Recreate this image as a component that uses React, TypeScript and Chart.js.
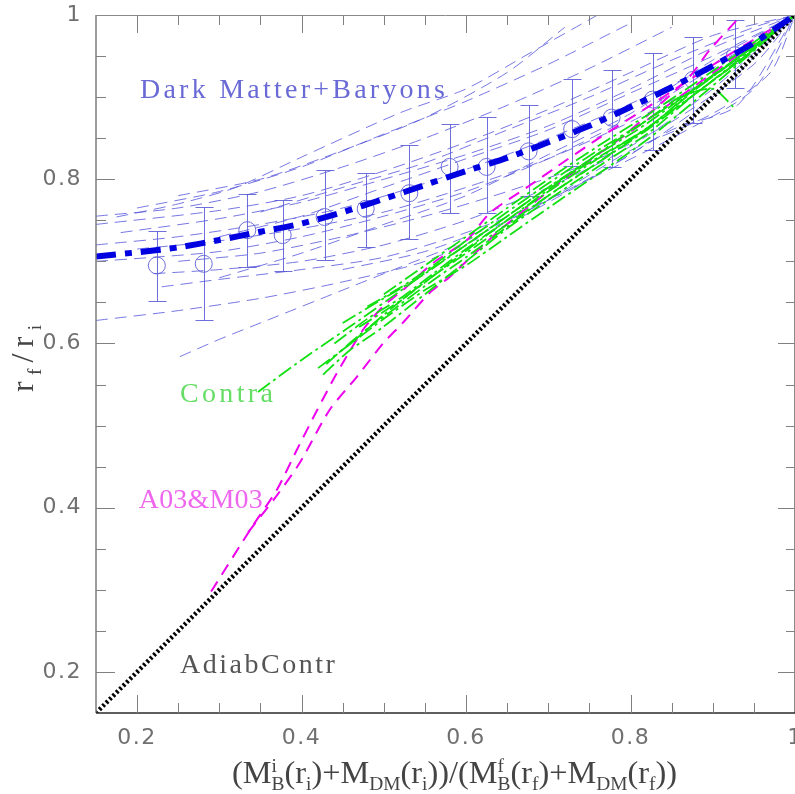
import React, { useEffect, useRef } from 'react';
import { Chart, registerables } from 'chart.js';

Chart.register(...registerables);

// ---------- axes ----------
const X_MIN = 0.15;
const X_MAX = 1.0;
const Y_MIN = 0.15;
const Y_MAX = 1.0;
const xTickValues = [0.2, 0.4, 0.6, 0.8, 1.0];
const xTickLabels = ['0.2', '0.4', '0.6', '0.8', '1'];
const yTickValues = [0.2, 0.4, 0.6, 0.8, 1.0];
const yTickLabels = ['0.2', '0.4', '0.6', '0.8', '1'];
const minorTickValues = [0.25, 0.3, 0.35, 0.45, 0.5, 0.55, 0.65, 0.7, 0.75, 0.85, 0.9, 0.95];

// ---------- Dark Matter + Baryons mean fit (thick dash-dot) ----------
const fitX = [0.15, 0.2, 0.25, 0.3, 0.35, 0.4, 0.45, 0.5, 0.55, 0.6, 0.65, 0.7, 0.75, 0.8, 0.85, 0.9, 0.95, 1.0];
const fitY = [0.706, 0.711, 0.717, 0.726, 0.736, 0.746, 0.76, 0.776, 0.793, 0.81, 0.826, 0.845, 0.865, 0.888, 0.912, 0.938, 0.966, 1.0];

// ---------- binned means with error bars ----------
const binX = [0.224, 0.281, 0.334, 0.377, 0.428, 0.478, 0.531, 0.58, 0.625, 0.676, 0.729, 0.777, 0.827, 0.876, 0.927];
const binY = [0.695, 0.697, 0.738, 0.732, 0.754, 0.764, 0.783, 0.815, 0.815, 0.834, 0.861, 0.875, 0.897, 0.921, 0.951];
const binHi = [0.737, 0.766, 0.782, 0.775, 0.811, 0.808, 0.842, 0.867, 0.876, 0.891, 0.922, 0.933, 0.954, 0.973, 0.994];
const binLo = [0.652, 0.628, 0.693, 0.688, 0.702, 0.718, 0.727, 0.759, 0.759, 0.779, 0.816, 0.815, 0.836, 0.868, 0.911];

// ---------- individual DM+baryon runs (thin dashed) ----------
const dmSimX: number[][] = [
  [0.175, 0.25, 0.32, 0.4, 0.52, 0.6, 0.68, 0.76],
  [0.2, 0.3, 0.4, 0.5, 0.6, 0.7, 0.8],
  [0.15, 0.25, 0.35, 0.45, 0.55, 0.65, 0.75, 0.85],
  [0.15, 0.3, 0.4, 0.5, 0.6, 0.7, 0.8, 0.9, 1.0],
  [0.18, 0.3, 0.4, 0.5, 0.6, 0.7, 0.8, 0.9, 1.0],
  [0.15, 0.25, 0.35, 0.45, 0.55, 0.65, 0.75, 0.85, 0.95, 1.0],
  [0.2, 0.3, 0.4, 0.5, 0.6, 0.7, 0.8, 0.9, 1.0],
  [0.25, 0.35, 0.45, 0.55, 0.65, 0.75, 0.85, 0.95, 1.0],
  [0.22, 0.3, 0.4, 0.5, 0.6, 0.7, 0.8, 0.9, 1.0],
  [0.23, 0.3, 0.4, 0.5, 0.6, 0.7, 0.8, 0.9, 1.0],
  [0.15, 0.25, 0.35, 0.45, 0.55, 0.65, 0.75, 0.85, 0.93, 1.0],
  [0.252, 0.3, 0.36, 0.45, 0.52, 0.6, 0.7, 0.8, 0.9, 0.97, 1.0],
  [0.15, 0.22, 0.3, 0.4, 0.5, 0.6, 0.7, 0.8, 0.9, 1.0],
  [0.3, 0.4, 0.5, 0.6, 0.7, 0.8, 0.9, 1.0],
  [0.25, 0.35, 0.45, 0.55, 0.65, 0.72],
  [0.45, 0.55, 0.65, 0.75, 0.85, 0.95, 1.0],
  [0.3, 0.4, 0.5, 0.6, 0.7, 0.8, 0.9, 1.0],
  [0.35, 0.45, 0.55, 0.65, 0.75, 0.85, 0.95, 1.0],
];
const dmSimY: number[][] = [
  [0.754, 0.77, 0.79, 0.827, 0.881, 0.91, 0.955, 1.0],
  [0.765, 0.785, 0.815, 0.855, 0.895, 0.94, 0.99],
  [0.755, 0.765, 0.785, 0.815, 0.85, 0.89, 0.935, 0.985],
  [0.745, 0.762, 0.78, 0.81, 0.845, 0.885, 0.93, 0.975, 1.0],
  [0.735, 0.752, 0.772, 0.8, 0.83, 0.865, 0.91, 0.96, 1.0],
  [0.72, 0.73, 0.745, 0.765, 0.795, 0.83, 0.87, 0.915, 0.965, 1.0],
  [0.715, 0.725, 0.74, 0.76, 0.79, 0.825, 0.87, 0.925, 1.0],
  [0.7, 0.71, 0.73, 0.755, 0.785, 0.82, 0.87, 0.94, 1.0],
  [0.685, 0.69, 0.7, 0.72, 0.75, 0.79, 0.84, 0.91, 1.0],
  [0.669, 0.678, 0.69, 0.705, 0.735, 0.775, 0.83, 0.9, 1.0],
  [0.628, 0.64, 0.655, 0.675, 0.7, 0.745, 0.8, 0.86, 0.89, 1.0],
  [0.584, 0.605, 0.629, 0.665, 0.693, 0.725, 0.775, 0.835, 0.88, 0.93, 1.0],
  [0.7, 0.705, 0.712, 0.73, 0.755, 0.785, 0.825, 0.875, 0.935, 1.0],
  [0.68, 0.71, 0.745, 0.78, 0.83, 0.88, 0.945, 1.0],
  [0.78, 0.8, 0.835, 0.875, 0.93, 0.985],
  [0.69, 0.712, 0.75, 0.8, 0.85, 0.91, 1.0],
  [0.73, 0.755, 0.79, 0.825, 0.86, 0.905, 0.95, 1.0],
  [0.76, 0.79, 0.82, 0.86, 0.9, 0.945, 0.985, 1.0],
];

// ---------- Contra runs (green dash-dot) ----------
const contraX: number[][] = [
  [0.347, 0.4, 0.471, 0.52, 0.556, 0.6, 0.65, 0.7, 0.763, 0.824, 0.884, 0.94, 1.0],
  [0.426, 0.459, 0.499, 0.55, 0.6, 0.65, 0.7, 0.76, 0.82, 0.88, 0.94, 1.0],
  [0.43, 0.47, 0.51, 0.55, 0.6, 0.65, 0.7, 0.76, 0.82, 0.88, 0.94, 1.0],
  [0.44, 0.48, 0.52, 0.56, 0.6, 0.65, 0.7, 0.76, 0.82, 0.88, 0.94, 1.0],
  [0.45, 0.5, 0.55, 0.6, 0.65, 0.7, 0.76, 0.82, 0.88, 0.94, 1.0],
  [0.48, 0.52, 0.56, 0.6, 0.65, 0.7, 0.76, 0.82, 0.86, 0.9, 0.925],
  [0.5, 0.55, 0.6, 0.65, 0.7, 0.76, 0.82, 0.88, 0.94, 1.0],
  [0.46, 0.5, 0.55, 0.6, 0.65, 0.7, 0.76, 0.82, 0.88, 0.94, 1.0],
  [0.42, 0.46, 0.5, 0.55, 0.6, 0.65, 0.7, 0.76, 0.82, 0.88, 0.94, 1.0],
  [0.47, 0.52, 0.57, 0.62, 0.67, 0.72, 0.78, 0.84, 0.9, 0.95, 1.0],
];
const contraY: number[][] = [
  [0.541, 0.58, 0.629, 0.664, 0.69, 0.72, 0.755, 0.79, 0.828, 0.865, 0.915, 0.955, 1.0],
  [0.562, 0.592, 0.62, 0.66, 0.7, 0.74, 0.775, 0.815, 0.855, 0.905, 0.95, 1.0],
  [0.575, 0.61, 0.64, 0.67, 0.705, 0.742, 0.78, 0.82, 0.86, 0.905, 0.95, 1.0],
  [0.6, 0.63, 0.655, 0.685, 0.715, 0.75, 0.785, 0.825, 0.862, 0.91, 0.955, 1.0],
  [0.625, 0.655, 0.685, 0.72, 0.755, 0.79, 0.83, 0.868, 0.912, 0.955, 1.0],
  [0.645, 0.668, 0.695, 0.725, 0.76, 0.795, 0.835, 0.872, 0.9, 0.91, 0.888],
  [0.66, 0.695, 0.73, 0.765, 0.8, 0.84, 0.878, 0.918, 0.96, 1.0],
  [0.6, 0.635, 0.675, 0.71, 0.745, 0.78, 0.82, 0.862, 0.905, 0.952, 1.0],
  [0.57, 0.6, 0.63, 0.665, 0.695, 0.73, 0.765, 0.806, 0.848, 0.897, 0.948, 1.0],
  [0.62, 0.652, 0.69, 0.728, 0.765, 0.802, 0.845, 0.885, 0.925, 0.962, 1.0],
];

// ---------- A03 & M03 (magenta dashed) ----------
const amX: number[][] = [
  [0.29, 0.34, 0.37, 0.394, 0.419, 0.443, 0.475, 0.499, 0.523, 0.56, 0.601, 0.629, 0.674, 0.71, 0.763, 0.815, 0.87, 0.93, 1.0],
  [0.335, 0.37, 0.398, 0.434, 0.467, 0.499, 0.523, 0.556, 0.58, 0.641, 0.7, 0.76, 0.82, 0.88, 0.94, 1.0],
  [0.8, 0.84, 0.872, 0.896, 0.935],
];
const amY: number[][] = [
  [0.298, 0.377, 0.422, 0.47, 0.519, 0.564, 0.617, 0.645, 0.665, 0.698, 0.726, 0.759, 0.79, 0.815, 0.851, 0.884, 0.92, 0.958, 1.0],
  [0.37, 0.415, 0.455, 0.519, 0.559, 0.6, 0.625, 0.662, 0.681, 0.738, 0.785, 0.83, 0.872, 0.915, 0.958, 1.0],
  [0.86, 0.895, 0.925, 0.957, 1.0],
];

// ---------- adiabatic contraction (black dotted) ----------
const adiabX = [0.15, 1.0];
const adiabY = [0.15, 1.0];

// ---------- annotations ----------
const noteTexts = ['Dark Matter+Baryons', 'Contra', 'A03&M03', 'AdiabContr'];
const noteX = [0.2035, 0.252, 0.202, 0.252];
const noteY = [0.899, 0.529, 0.4, 0.199];
const noteWidths = [305, 93, 124, 155];
const noteColors = ['#6a6ad6', '#66dd66', '#ee66ee', '#555555'];

type Seg = { t: string; k: 'n' | 'sub' | 'sup' } | { sup: string; sub: string };
const xTitleSegs: Seg[] = [
  { t: '(M', k: 'n' }, { sup: 'i', sub: 'B' }, { t: '(r', k: 'n' }, { t: 'i', k: 'sub' },
  { t: ')+M', k: 'n' }, { t: 'DM', k: 'sub' }, { t: '(r', k: 'n' }, { t: 'i', k: 'sub' },
  { t: '))/(M', k: 'n' }, { sup: 'f', sub: 'B' }, { t: '(r', k: 'n' }, { t: 'f', k: 'sub' },
  { t: ')+M', k: 'n' }, { t: 'DM', k: 'sub' }, { t: '(r', k: 'n' }, { t: 'f', k: 'sub' },
  { t: '))', k: 'n' },
];
const yTitleSegs: Seg[] = [
  { t: 'r', k: 'n' }, { t: 'f', k: 'sub' }, { t: '/', k: 'n' }, { t: 'r', k: 'n' }, { t: 'i', k: 'sub' },
];

const SERIF = '"Liberation Serif", "DejaVu Serif", serif';

// draws segments starting at x=0 on the baseline; extra px is added after each segment
function richRun(ctx: CanvasRenderingContext2D, segs: Seg[], size: number, draw: boolean, gap = 0) {
  let x = 0;
  const small = size * 0.6;
  segs.forEach((s, idx) => {
    if ('sup' in s) {
      ctx.font = `${small}px ${SERIF}`;
      const w1 = ctx.measureText(s.sup).width;
      const w2 = ctx.measureText(s.sub).width;
      if (draw) {
        ctx.fillText(s.sup, x, -size * 0.36);
        ctx.fillText(s.sub, x, size * 0.24);
      }
      x += Math.max(w1, w2);
    } else {
      const sz = s.k === 'n' ? size : small;
      ctx.font = `${sz}px ${SERIF}`;
      const dy = s.k === 'sub' ? size * 0.24 : s.k === 'sup' ? -size * 0.36 : 0;
      if (draw) ctx.fillText(s.t, x, dy);
      x += ctx.measureText(s.t).width;
    }
    if (idx < segs.length - 1) x += gap;
  });
  return x;
}

function fitText(ctx: CanvasRenderingContext2D, text: string, x: number, y: number, target: number) {
  const anyCtx = ctx as any;
  const hasLS = 'letterSpacing' in anyCtx;
  if (hasLS) anyCtx.letterSpacing = '0px';
  const w = ctx.measureText(text).width;
  const n = text.length;
  if (hasLS && target > w && n > 1) {
    anyCtx.letterSpacing = `${(target - w) / (n - 1)}px`;
    ctx.fillText(text, x, y);
    anyCtx.letterSpacing = '0px';
  } else {
    ctx.save();
    ctx.translate(x, y);
    ctx.scale(target / w, 1);
    ctx.fillText(text, 0, 0);
    ctx.restore();
  }
}

const framePlugin = {
  id: 'frameAndNotes',
  beforeDraw(chart: any) {
    const ctx = chart.ctx as any;
    if ('letterSpacing' in ctx) ctx.letterSpacing = '1.5px';
  },
  beforeDatasetsDraw(chart: any) {
    const { ctx, chartArea, scales } = chart;
    const xs = scales.x;
    const ys = scales.y;
    ctx.save();
    ctx.beginPath();
    ctx.rect(chartArea.left, chartArea.top, chartArea.right - chartArea.left, chartArea.bottom - chartArea.top);
    ctx.clip();
    ctx.strokeStyle = 'rgba(95,95,215,0.9)';
    ctx.lineWidth = 1;
    ctx.setLineDash([]);
    binX.forEach((bx, i) => {
      const px = Math.round(xs.getPixelForValue(bx)) + 0.5;
      const top = Math.round(ys.getPixelForValue(binHi[i])) + 0.5;
      const bot = Math.round(ys.getPixelForValue(binLo[i])) + 0.5;
      ctx.beginPath();
      ctx.moveTo(px, top);
      ctx.lineTo(px, bot);
      ctx.moveTo(px - 9, top);
      ctx.lineTo(px + 9, top);
      ctx.moveTo(px - 9, bot);
      ctx.lineTo(px + 9, bot);
      ctx.stroke();
    });
    ctx.restore();
  },
  afterDatasetsDraw(chart: any) {
    const { ctx, chartArea, scales } = chart;
    const xs = scales.x;
    const ys = scales.y;
    const L = chartArea.left;
    const R = chartArea.right;
    const T = chartArea.top;
    const B = chartArea.bottom;
    ctx.save();
    if ('letterSpacing' in ctx) (ctx as any).letterSpacing = '0px';
    ctx.setLineDash([]);
    // frame
    ctx.lineWidth = 1.5;
    ctx.strokeStyle = '#7c7c7c';
    ctx.beginPath();
    ctx.moveTo(L, T);
    ctx.lineTo(L, B);
    ctx.stroke();
    ctx.strokeStyle = '#8a8a8a';
    ctx.lineWidth = 1;
    ctx.beginPath();
    ctx.moveTo(L, T + 0.5);
    ctx.lineTo(R, T + 0.5);
    ctx.moveTo(R - 0.5, T);
    ctx.lineTo(R - 0.5, B);
    ctx.stroke();
    ctx.strokeStyle = '#2a2a2a';
    ctx.lineWidth = 1.5;
    ctx.beginPath();
    ctx.moveTo(L, B);
    ctx.lineTo(R, B);
    ctx.stroke();
    // ticks
    ctx.strokeStyle = '#808080';
    ctx.lineWidth = 1;
    ctx.beginPath();
    const xt = (v: number, len: number) => {
      const px = Math.round(xs.getPixelForValue(v)) + 0.5;
      ctx.moveTo(px, B);
      ctx.lineTo(px, B - len);
      ctx.moveTo(px, T);
      ctx.lineTo(px, T + len);
    };
    const yt = (v: number, lenL: number, lenR: number) => {
      const py = Math.round(ys.getPixelForValue(v)) + 0.5;
      ctx.moveTo(L, py);
      ctx.lineTo(L + lenL, py);
      ctx.moveTo(R, py);
      ctx.lineTo(R - lenR, py);
    };
    xTickValues.forEach((v) => { if (v < X_MAX) xt(v, 18); });
    minorTickValues.forEach((v) => xt(v, 10));
    yTickValues.forEach((v) => { if (v < Y_MAX) yt(v, 19, 17); });
    minorTickValues.forEach((v) => yt(v, 10, 9));
    ctx.stroke();

    // annotations
    ctx.textBaseline = 'alphabetic';
    ctx.textAlign = 'left';
    noteTexts.forEach((t, i) => {
      ctx.font = `28px ${SERIF}`;
      ctx.fillStyle = noteColors[i];
      fitText(ctx, t, xs.getPixelForValue(noteX[i]), ys.getPixelForValue(noteY[i]), noteWidths[i]);
    });

    // x title
    ctx.fillStyle = '#444444';
    const xSize = 31;
    const xw = richRun(ctx, xTitleSegs, xSize, false);
    ctx.save();
    ctx.translate(232, 783);
    ctx.scale(445 / xw, 1);
    richRun(ctx, xTitleSegs, xSize, true);
    ctx.restore();

    // y title (rotated, spacing spread between segments)
    const ySize = 32;
    const yw = richRun(ctx, yTitleSegs, ySize, false);
    const yGap = Math.max(0, (67 - yw) / (yTitleSegs.length - 1));
    ctx.save();
    ctx.translate(33, 392);
    ctx.rotate(-Math.PI / 2);
    richRun(ctx, yTitleSegs, ySize, true, yGap);
    ctx.restore();
    ctx.restore();
  },
};

function lineDs(xsArr: number[], ysArr: number[], extra: any) {
  return {
    type: 'scatter',
    data: xsArr.map((x, i) => ({ x, y: ysArr[i] })),
    showLine: true,
    pointRadius: 0,
    pointHoverRadius: 0,
    fill: false,
    tension: 0.25,
    clip: 0,
    ...extra,
  };
}

export default function App() {
  const ref = useRef<HTMLCanvasElement | null>(null);
  useEffect(() => {
    document.body.style.margin = '0';
    const canvas = ref.current;
    if (!canvas) return;
    const datasets: any[] = [];
    dmSimX.forEach((xsArr, i) =>
      datasets.push(lineDs(xsArr, dmSimY[i], {
        borderColor: 'rgba(85,85,220,0.8)', borderWidth: 1, borderDash: [12, 7], order: 6,
      })),
    );
    datasets.push({
      type: 'scatter',
      data: binX.map((x, i) => ({ x, y: binY[i] })),
      pointRadius: 8.5,
      pointStyle: 'circle',
      borderColor: 'rgba(95,95,215,0.9)',
      backgroundColor: 'rgba(0,0,0,0)',
      borderWidth: 1,
      showLine: false,
      clip: 0,
      order: 5,
    });
    amX.forEach((xsArr, i) =>
      datasets.push(lineDs(xsArr, amY[i], {
        borderColor: '#ee00ee', borderWidth: 2, borderDash: [12, 8], order: 4,
      })),
    );
    contraX.forEach((xsArr, i) =>
      datasets.push(lineDs(xsArr, contraY[i], {
        borderColor: '#11e011', borderWidth: 1.8, borderDash: [15, 4, 3, 4], order: 3,
      })),
    );
    datasets.push(lineDs(adiabX, adiabY, {
      borderColor: '#000000', borderWidth: 4.5, borderDash: [2.4, 2.4], tension: 0, order: 2,
    }));
    datasets.push(lineDs(fitX, fitY, {
      borderColor: '#0000e0', borderWidth: 6, borderDash: [20, 9, 7, 9], order: 1,
    }));

    const labelFor = (vals: number[], labels: string[]) => (v: any) => {
      const i = vals.findIndex((t) => Math.abs(t - Number(v)) < 1e-9);
      return i >= 0 ? labels[i] : '';
    };

    const chart = new Chart(canvas, {
      type: 'scatter',
      data: { datasets },
      options: {
        responsive: false,
        animation: false,
        devicePixelRatio: 1,
        events: [],
        layout: { padding: { top: 15, right: 45, left: 0, bottom: 0 } },
        plugins: { legend: { display: false }, tooltip: { enabled: false } },
        scales: {
          x: {
            type: 'linear',
            min: X_MIN,
            max: X_MAX,
            afterBuildTicks: (s: any) => { s.ticks = xTickValues.map((v) => ({ value: v })); },
            afterFit: (s: any) => { s.height = 81; s.paddingLeft = 0; s.paddingRight = 0; },
            grid: { display: false, drawTicks: false },
            border: { display: false },
            ticks: {
              callback: labelFor(xTickValues, xTickLabels),
              font: { family: '"DejaVu Sans", sans-serif', size: 22 },
              color: '#707070',
              padding: 12,
              maxRotation: 0,
              autoSkip: false,
            },
          },
          y: {
            type: 'linear',
            min: Y_MIN,
            max: Y_MAX,
            afterBuildTicks: (s: any) => { s.ticks = yTickValues.map((v) => ({ value: v })); },
            afterFit: (s: any) => { s.width = 96; s.paddingTop = 0; s.paddingBottom = 0; },
            grid: { display: false, drawTicks: false },
            border: { display: false },
            ticks: {
              callback: labelFor(yTickValues, yTickLabels),
              font: { family: '"DejaVu Sans", sans-serif', size: 22 },
              color: '#707070',
              padding: 14,
              autoSkip: false,
            },
          },
        },
      } as any,
      plugins: [framePlugin],
    });
    return () => chart.destroy();
  }, []);

  return (
    <div style={{ width: 795, height: 794, overflow: 'hidden', position: 'relative', background: '#fff' }}>
      <canvas ref={ref} width={840} height={794} style={{ display: 'block' }} />
    </div>
  );
}
